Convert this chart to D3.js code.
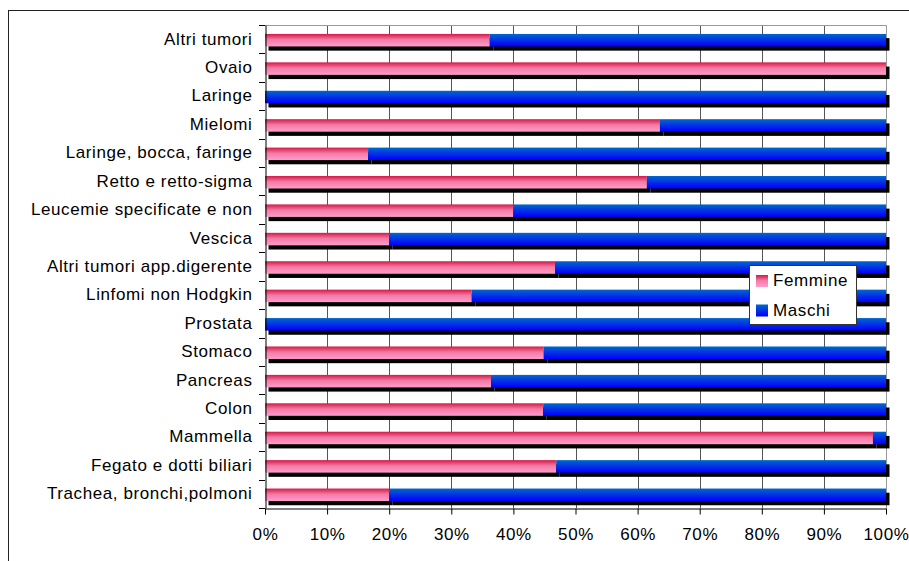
<!DOCTYPE html>
<html>
<head>
<meta charset="utf-8">
<script src="https://cdn.jsdelivr.net/npm/d3@7/dist/d3.min.js"></script>
<style>
  html, body { margin: 0; padding: 0; background: #ffffff; }
  svg { display: block; }
  text { font-family: "Liberation Sans", Arial, sans-serif; fill: #000; }
</style>
</head>
<body>
<svg id="chart" width="909" height="561"></svg>
<script>
// Tumour sites, listed top to bottom
const categories = [
  "Altri tumori",
  "Ovaio",
  "Laringe",
  "Mielomi",
  "Laringe, bocca, faringe",
  "Retto e retto-sigma",
  "Leucemie specificate e non",
  "Vescica",
  "Altri tumori app.digerente",
  "Linfomi non Hodgkin",
  "Prostata",
  "Stomaco",
  "Pancreas",
  "Colon",
  "Mammella",
  "Fegato e dotti biliari",
  "Trachea, bronchi,polmoni"
];

// Share of cases by sex (%)
const femmine = [36.2, 100, 0, 63.6, 16.6, 61.5, 40.0, 20.0, 46.7, 33.3, 0, 44.9, 36.4, 44.8, 97.9, 46.9, 20.0];
const maschi  = [63.8, 0, 100, 36.4, 83.4, 38.5, 60.0, 80.0, 53.3, 66.7, 100, 55.1, 63.6, 55.2, 2.1, 53.1, 80.0];

const seriesNames = ["Femmine", "Maschi"];
const xTicks = [0, 10, 20, 30, 40, 50, 60, 70, 80, 90, 100];

const svg = d3.select("#chart");
const defs = svg.append("defs");

// Vertical gradients for the two series
const gradPink = defs.append("linearGradient").attr("id", "g-femmine")
  .attr("x1", 0).attr("y1", 0).attr("x2", 0).attr("y2", 1);
gradPink.append("stop").attr("offset", "0%").attr("stop-color", "#d41848");
gradPink.append("stop").attr("offset", "45%").attr("stop-color", "#f27aa4");
gradPink.append("stop").attr("offset", "100%").attr("stop-color", "#ff9ccc");

const gradBlue = defs.append("linearGradient").attr("id", "g-maschi")
  .attr("x1", 0).attr("y1", 0).attr("x2", 0).attr("y2", 1);
gradBlue.append("stop").attr("offset", "0%").attr("stop-color", "#0068cc");
gradBlue.append("stop").attr("offset", "80%").attr("stop-color", "#0010f6");
gradBlue.append("stop").attr("offset", "100%").attr("stop-color", "#0000ff");

const fills = { "Femmine": "url(#g-femmine)", "Maschi": "url(#g-maschi)" };

// Outer chart frame
svg.append("rect")
  .attr("x", 8.5).attr("y", 10.5)
  .attr("width", 920).attr("height", 570)
  .attr("fill", "none").attr("stroke", "#222").attr("stroke-width", 1);

const plot = { left: 265, right: 886, top: 25, bottom: 508 };

const x = d3.scaleLinear().domain([0, 100]).range([plot.left, plot.right]);
const y = d3.scaleBand().domain(categories).range([plot.top, plot.bottom]).padding(0);
const bw = y.bandwidth();
const barOff = bw * 0.315;
const barH = bw * 0.44;

// Vertical gridlines
svg.append("g").selectAll("line").data(xTicks.slice(1, -1)).join("line")
  .attr("x1", d => Math.round(x(d)) + 0.5).attr("x2", d => Math.round(x(d)) + 0.5)
  .attr("y1", plot.top).attr("y2", plot.bottom)
  .attr("stroke", "#555").attr("stroke-width", 1);

// Plot area border (top and right)
svg.append("path")
  .attr("d", `M${plot.left},${plot.top + 0.5}H${plot.right + 0.5}V${plot.bottom}`)
  .attr("fill", "none").attr("stroke", "#999").attr("stroke-width", 1);

// Stack the two series
const rows = categories.map((c, i) => ({ cat: c, Femmine: femmine[i], Maschi: maschi[i] }));
const stacked = d3.stack().keys(seriesNames)(rows);

// Drop shadows behind each segment
const shadowG = svg.append("g");
stacked.forEach(s => {
  shadowG.selectAll(null).data(s.filter(d => d[1] - d[0] > 0)).join("rect")
    .attr("x", d => x(d[0]) + 3.5)
    .attr("y", d => y(d.data.cat) + barOff + 4.2)
    .attr("width", d => x(d[1]) - x(d[0]))
    .attr("height", barH)
    .attr("fill", "#000");
});

// Bars
const barG = svg.append("g");
stacked.forEach(s => {
  barG.selectAll(null).data(s.filter(d => d[1] - d[0] > 0)).join("rect")
    .attr("x", d => x(d[0]))
    .attr("y", d => y(d.data.cat) + barOff)
    .attr("width", d => x(d[1]) - x(d[0]))
    .attr("height", barH)
    .attr("fill", fills[s.key]);
});

// Category axis
const yAxis = d3.axisLeft(y).tickSize(0).tickPadding(13);
const yg = svg.append("g").attr("transform", `translate(${plot.left + 0.5},0)`).call(yAxis);
yg.select(".domain").attr("stroke", "#000");
yg.selectAll("text")
  .attr("font-size", 17).attr("letter-spacing", "0.6px")
  .attr("font-family", "'Liberation Sans', Arial, sans-serif")
  .attr("fill", "#000");
// Tick marks on band boundaries
const bounds = categories.map(c => y(c)).concat([plot.bottom]);
svg.append("g").selectAll("line").data(bounds).join("line")
  .attr("x1", plot.left - 6).attr("x2", plot.left)
  .attr("y1", d => Math.round(d) + 0.5).attr("y2", d => Math.round(d) + 0.5)
  .attr("stroke", "#000");

// Value axis
const xAxis = d3.axisBottom(x).tickValues(xTicks).tickFormat(d => d + "%")
  .tickSize(6).tickPadding(13).tickSizeOuter(0);
const xg = svg.append("g").attr("transform", `translate(0,${plot.bottom + 0.5})`).call(xAxis);
xg.select(".domain").attr("stroke", "#000");
xg.selectAll(".tick line").attr("stroke", "#000");
xg.selectAll("text")
  .attr("font-size", 17).attr("letter-spacing", "0.6px")
  .attr("font-family", "'Liberation Sans', Arial, sans-serif")
  .attr("fill", "#000");

// Legend
const lg = svg.append("g").attr("transform", "translate(749.5,265.5)");
lg.append("rect").attr("width", 107).attr("height", 59)
  .attr("fill", "#fff").attr("stroke", "#333");
seriesNames.forEach((name, i) => {
  const row = lg.append("g").attr("transform", `translate(0,${i * 29.5})`);
  row.append("rect").attr("x", 6.5).attr("y", 9.5).attr("width", 12).attr("height", 12)
    .attr("fill", fills[name]);
  row.append("text").attr("x", 23.5).attr("y", 20.5)
    .attr("font-size", 17).attr("letter-spacing", "0.6px").text(name);
});
</script>
</body>
</html>
